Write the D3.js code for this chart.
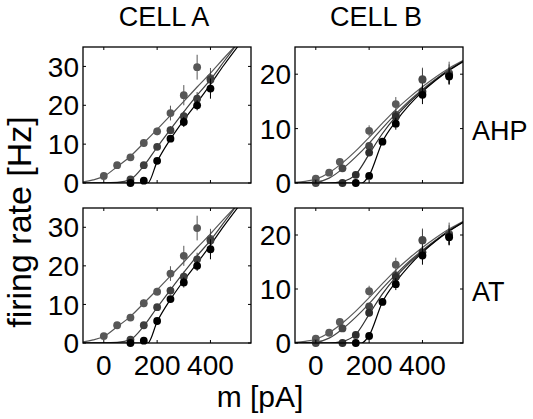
<!DOCTYPE html>
<html>
<head>
<meta charset="utf-8">
<script src="https://cdn.jsdelivr.net/npm/d3@7"></script>
<style>
  html, body { margin: 0; padding: 0; background: #fff; }
  svg { display: block; }
  text { font-family: "Liberation Sans", Arial, Helvetica, sans-serif; fill: #000; }
</style>
</head>
<body>
<svg id="chart" width="533" height="419"></svg>
<script>
// ---- axis settings ----
const xDomain = [-78, 552];
const xTicks = [0, 200, 400];
const cellAYDomain = [0, 35];
const cellBYDomain = [0, 25];
const cellAYTicks = [0, 10, 20, 30];
const cellBYTicks = [0, 10, 20];
const columnTitles = ["CELL A", "CELL B"];
const rowLabels = ["AHP", "AT"];

// ---- CELL A: measured firing rates (mean, error) ----
const cellA1X = [0, 50, 100, 150, 200, 250, 300, 350, 400];
const cellA1Y = [1.8, 4.6, 6.6, 10.3, 13.3, 18.0, 22.6, 29.8, 27.0];
const cellA1E = [0.4, 0.5, 0.6, 1.0, 1.0, 1.9, 2.6, 3.2, 2.6];
const cellA2X = [100, 150, 200, 250, 300, 350, 400];
const cellA2Y = [0.9, 4.6, 9.3, 13.6, 17.2, 21.7, 26.6];
const cellA2E = [0.3, 0.5, 0.8, 1.0, 1.3, 1.7, 2.0];
const cellA3X = [100, 150, 200, 250, 300, 350, 400];
const cellA3Y = [0, 0.6, 5.7, 11.4, 15.7, 20.0, 24.3];
const cellA3E = [0.2, 0.3, 0.6, 0.8, 1.3, 1.3, 2.6];

// ---- CELL A: model rate curves ----
const fitA1X = [-78, -40, 0, 50, 100, 150, 200, 250, 300, 350, 400, 450, 500];
const fitA1Y = [0.3, 0.8, 1.7, 4.2, 6.9, 10.3, 13.8, 17.4, 21.0, 24.7, 28.3, 32.1, 35.8];
const fitA2X = [-78, 0, 50, 100, 150, 200, 250, 300, 350, 400, 450, 500];
const fitA2Y = [0, 0.02, 0.15, 0.9, 4.4, 9.2, 13.8, 18.3, 22.6, 26.6, 31.2, 35.8];
const fitA3X = [-78, 165, 200, 250, 300, 350, 400, 450, 510];
const fitA3Y = [0, 0, 5.5, 11.3, 16.2, 20.7, 25.4, 30.3, 35.8];

// ---- CELL B: measured firing rates (mean, error) ----
const cellB1X = [0, 50, 90, 200, 300, 400, 500];
const cellB1Y = [0.8, 1.9, 3.9, 9.6, 14.5, 19.1, 20.2];
const cellB1E = [0.2, 0.3, 0.4, 1.0, 1.3, 2.1, 2.1];
const cellB2X = [0, 100, 200, 300, 400, 500];
const cellB2Y = [0, 2.7, 6.8, 12.5, 19.0, 20.0];
const cellB2E = [0.2, 0.3, 0.6, 1.0, 2.0, 1.8];
const cellB3X = [100, 150, 200, 300, 400, 500];
const cellB3Y = [0, 1.5, 5.6, 12.2, 16.8, 19.8];
const cellB3E = [0.2, 0.3, 0.5, 1.0, 1.6, 1.5];
const cellB4X = [150, 200, 250, 300, 400, 500];
const cellB4Y = [0, 1.3, 7.6, 10.9, 16.2, 19.6];
const cellB4E = [0.2, 0.3, 0.6, 1.1, 1.7, 1.5];

// ---- CELL B: model rate curves ----
const fitB1X = [-78, -40, 0, 50, 100, 150, 200, 250, 300, 350, 400, 450, 500, 552];
const fitB1Y = [0.1, 0.3, 0.7, 1.9, 3.7, 5.9, 8.4, 11.0, 13.5, 15.7, 17.7, 19.5, 21.1, 22.5];
const fitB2X = [-78, 0, 50, 100, 150, 200, 250, 300, 350, 400, 450, 500, 552];
const fitB2Y = [0, 0.15, 0.9, 2.6, 4.8, 7.3, 10.1, 12.7, 15.1, 17.2, 19.1, 20.8, 22.4];
const fitB3X = [-78, 50, 100, 150, 200, 250, 300, 350, 400, 450, 500, 552];
const fitB3Y = [0, 0, 0.3, 1.6, 5.3, 9.1, 12.2, 14.8, 17.0, 19.0, 20.8, 22.4];
const fitB4X = [-78, 172, 200, 250, 300, 350, 400, 450, 500, 552];
const fitB4Y = [0, 0, 1.4, 7.6, 11.3, 14.3, 16.8, 18.9, 20.7, 22.3];

// series shades, lightest to darkest
const shadesA = ["#575757", "#3e3e3e", "#000000"];
const shadesB = ["#5a5a5a", "#474747", "#2e2e2e", "#000000"];

const zip = (xs, ys, es) => xs.map((x, i) => ({ x, y: ys[i], e: es ? es[i] : 0 }));

const cellA = {
  yDomain: cellAYDomain, yTicks: cellAYTicks, shades: shadesA,
  points: [zip(cellA1X, cellA1Y, cellA1E), zip(cellA2X, cellA2Y, cellA2E), zip(cellA3X, cellA3Y, cellA3E)],
  fits: [zip(fitA1X, fitA1Y), zip(fitA2X, fitA2Y), zip(fitA3X, fitA3Y)]
};
const cellB = {
  yDomain: cellBYDomain, yTicks: cellBYTicks, shades: shadesB,
  points: [zip(cellB1X, cellB1Y, cellB1E), zip(cellB2X, cellB2Y, cellB2E),
           zip(cellB3X, cellB3Y, cellB3E), zip(cellB4X, cellB4Y, cellB4E)],
  fits: [zip(fitB1X, fitB1Y), zip(fitB2X, fitB2Y), zip(fitB3X, fitB3Y), zip(fitB4X, fitB4Y)]
};

const svg = d3.select("#chart");
const colLeft = [83, 295];
const panelW = 168;
const rowTop = [47, 208];
const panelH = [136, 135];
const tickLen = 3;
const fontSize = 27;

function drawPanel(cell, col, row) {
  const x0 = colLeft[col], y0 = rowTop[row], w = panelW, h = panelH[row];
  const x = d3.scaleLinear().domain(xDomain).range([x0, x0 + w]);
  const y = d3.scaleLinear().domain(cell.yDomain).range([y0 + h, y0]);
  const g = svg.append("g");
  const clipId = `clip-${col}-${row}`;
  svg.append("clipPath").attr("id", clipId)
    .append("rect").attr("x", x0).attr("y", y0).attr("width", w).attr("height", h);

  const plot = g.append("g").attr("clip-path", `url(#${clipId})`);
  const line = d3.line().x(d => x(d.x)).y(d => y(d.y)).curve(d3.curveMonotoneX);

  cell.fits.forEach((f, i) => {
    plot.append("path").attr("d", line(f)).attr("fill", "none")
      .attr("stroke", cell.shades[i]).attr("stroke-width", 1.2);
  });

  const marks = g.append("g");
  cell.points.forEach((pts, i) => {
    const s = marks.append("g");
    s.selectAll("line").data(pts).join("line")
      .attr("x1", d => x(d.x)).attr("x2", d => x(d.x))
      .attr("y1", d => y(d.y - d.e)).attr("y2", d => y(d.y + d.e))
      .attr("stroke", cell.shades[i]).attr("stroke-width", 1);
    s.selectAll("circle").data(pts).join("circle")
      .attr("cx", d => x(d.x)).attr("cy", d => y(d.y)).attr("r", 3.9)
      .attr("fill", cell.shades[i]);
  });

  // box frame with inward ticks on all four sides
  const axisG = g.append("g").attr("stroke", "#000").attr("stroke-width", 1);
  axisG.append("rect").attr("x", x0).attr("y", y0).attr("width", w).attr("height", h)
    .attr("fill", "none").attr("stroke-width", 1.3);
  xTicks.forEach(t => {
    axisG.append("line").attr("x1", x(t)).attr("x2", x(t)).attr("y1", y0 + h).attr("y2", y0 + h - tickLen);
    axisG.append("line").attr("x1", x(t)).attr("x2", x(t)).attr("y1", y0).attr("y2", y0 + tickLen);
  });
  cell.yTicks.forEach(t => {
    axisG.append("line").attr("x1", x0).attr("x2", x0 + tickLen).attr("y1", y(t)).attr("y2", y(t));
    axisG.append("line").attr("x1", x0 + w).attr("x2", x0 + w - tickLen).attr("y1", y(t)).attr("y2", y(t));
  });

  // y tick labels
  g.append("g").selectAll("text").data(cell.yTicks).join("text")
    .attr("x", x0 - 4).attr("y", d => y(d)).attr("dy", "0.36em")
    .attr("text-anchor", "end").attr("font-size", fontSize + 1)
    .text(d => d);

  // x tick labels on bottom row only
  if (row === 1) {
    g.append("g").selectAll("text").data(xTicks).join("text")
      .attr("x", d => x(d)).attr("y", y0 + h + 32)
      .attr("text-anchor", "middle").attr("font-size", fontSize + 1)
      .text(d => d);
  }
}

[cellA, cellB].forEach((cell, col) => {
  drawPanel(cell, col, 0);
  drawPanel(cell, col, 1);
});

// column titles
columnTitles.forEach((t, i) => {
  svg.append("text").attr("x", colLeft[i] + panelW / 2 - 3).attr("y", 26)
    .attr("text-anchor", "middle").attr("font-size", fontSize).text(t);
});

// row labels
rowLabels.forEach((t, i) => {
  svg.append("text").attr("x", 472).attr("y", rowTop[i] + 93)
    .attr("font-size", fontSize).text(t);
});

// axis titles
svg.append("text").attr("x", 260).attr("y", 407)
  .attr("text-anchor", "middle").attr("font-size", 30).text("m [pA]");
svg.append("text")
  .attr("transform", "translate(31,222) rotate(-90)")
  .attr("text-anchor", "middle").attr("font-size", 34).text("firing rate [Hz]");
</script>
</body>
</html>
